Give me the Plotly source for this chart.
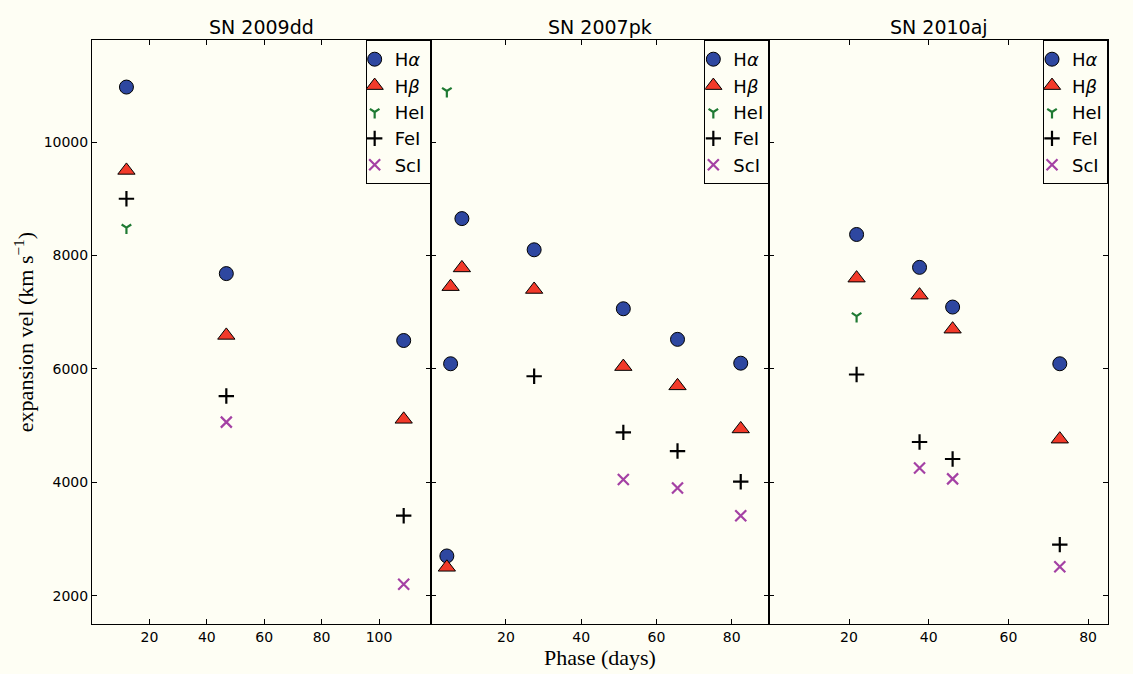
import plotly.graph_objects as go
from plotly.subplots import make_subplots

# Expansion velocities (km/s) of spectral lines versus phase (days)
titles = ["SN 2009dd", "SN 2007pk", "SN 2010aj"]

# SN 2009dd
dd_ha_x = [12, 46.8, 108.6]
dd_ha_y = [10970, 7680, 6500]
dd_hb_x = [12, 46.8, 108.6]
dd_hb_y = [9500, 6590, 5110]
dd_he_x = [12]
dd_he_y = [8490]
dd_fe_x = [12, 46.8, 108.6]
dd_fe_y = [9000, 5520, 3410]
dd_sc_x = [46.8, 108.6]
dd_sc_y = [5060, 2200]

# SN 2007pk
pk_ha_x = [4.3, 5.3, 8.3, 27.5, 51.2, 65.6, 82.4]
pk_ha_y = [2700, 6090, 8650, 8100, 7060, 6520, 6100]
pk_hb_x = [4.3, 5.3, 8.3, 27.5, 51.2, 65.6, 82.4]
pk_hb_y = [2500, 7450, 7780, 7400, 6040, 5700, 4940]
pk_he_x = [4.3]
pk_he_y = [10900]
pk_fe_x = [27.5, 51.2, 65.6, 82.4]
pk_fe_y = [5870, 4880, 4550, 4010]
pk_sc_x = [51.2, 65.6, 82.4]
pk_sc_y = [4050, 3900, 3410]

# SN 2010aj
aj_ha_x = [21.9, 37.7, 46.0, 72.9]
aj_ha_y = [8370, 7790, 7090, 6090]
aj_hb_x = [21.9, 37.7, 46.0, 72.9]
aj_hb_y = [7600, 7300, 6700, 4760]
aj_he_x = [21.9]
aj_he_y = [6930]
aj_fe_x = [21.9, 37.7, 46.0, 72.9]
aj_fe_y = [5900, 4710, 4410, 2900]
aj_sc_x = [37.7, 46.0, 72.9]
aj_sc_y = [4250, 4060, 2510]

x_ranges = [[0, 118], [0, 90], [0, 85]]
x_ticks = [[20, 40, 60, 80, 100], [20, 40, 60, 80], [20, 40, 60, 80]]
y_ticks = [2000, 4000, 6000, 8000, 10000]
y_range = [1500, 11800]

BG = "#fefef4"
line_names = ["H<i>α</i>", "H<i>β</i>", "HeI", "FeI", "ScI"]
styles = [
    dict(symbol="circle", size=14, color="#2e47a0", line=dict(color="black", width=1)),
    dict(symbol="triangle-up", size=15, color="#f23a2a", line=dict(color="black", width=1)),
    dict(symbol="y-down", size=8, color="#1f7a33", line=dict(color="#1f7a33", width=2.2)),
    dict(symbol="cross-thin", size=11, color="black", line=dict(color="black", width=2.2)),
    dict(symbol="x-thin", size=11, color="#a441a4", line=dict(color="#a441a4", width=2.2)),
]

panels = [
    [(dd_ha_x, dd_ha_y), (dd_hb_x, dd_hb_y), (dd_he_x, dd_he_y), (dd_fe_x, dd_fe_y), (dd_sc_x, dd_sc_y)],
    [(pk_ha_x, pk_ha_y), (pk_hb_x, pk_hb_y), (pk_he_x, pk_he_y), (pk_fe_x, pk_fe_y), (pk_sc_x, pk_sc_y)],
    [(aj_ha_x, aj_ha_y), (aj_hb_x, aj_hb_y), (aj_he_x, aj_he_y), (aj_fe_x, aj_fe_y), (aj_sc_x, aj_sc_y)],
]

fig = make_subplots(rows=1, cols=3, shared_yaxes=True, horizontal_spacing=0,
                    subplot_titles=titles)

legend_ids = ["legend", "legend2", "legend3"]
for p, series in enumerate(panels):
    for k, (xs, ys) in enumerate(series):
        fig.add_trace(go.Scatter(
            x=xs, y=ys, mode="markers", name=line_names[k],
            marker=styles[k], legend=legend_ids[p],
        ), row=1, col=p + 1)

tick_font = dict(family="DejaVu Sans", size=14, color="black")
for p in range(3):
    fig.update_xaxes(range=x_ranges[p], tickvals=x_ticks[p], ticks="inside", ticklen=5,
                     showline=True, linecolor="black", linewidth=1, mirror="ticks",
                     showgrid=False, zeroline=False, tickfont=tick_font,
                     tickcolor="black", row=1, col=p + 1)
    fig.update_yaxes(range=y_range, tickvals=y_ticks, tickformat="d", ticks="inside",
                     ticklen=5, showline=True, linecolor="black", linewidth=1,
                     mirror="ticks", showgrid=False, zeroline=False, tickfont=tick_font,
                     tickcolor="black", row=1, col=p + 1)

fig.update_xaxes(title=dict(text="Phase (days)", standoff=2,
                            font=dict(family="Liberation Serif", size=22, color="black")),
                 row=1, col=2)
fig.update_yaxes(title=dict(text="expansion vel (km s<sup>−1</sup>)", standoff=3,
                            font=dict(family="Liberation Serif", size=22, color="black")),
                 row=1, col=1)

for ann in fig.layout.annotations:
    ann.font = dict(family="DejaVu Sans", size=19, color="black")

legend_style = dict(
    xref="paper", yref="paper", xanchor="right", yanchor="top", y=1,
    bgcolor=BG, bordercolor="black", borderwidth=1,
    font=dict(family="DejaVu Sans", size=18, color="black"),
    itemwidth=30, indentation=-12,
)
fig.update_layout(
    legend=dict(x=1 / 3, **legend_style),
    legend2=dict(x=2 / 3, **legend_style),
    legend3=dict(x=1, **legend_style),
    paper_bgcolor=BG, plot_bgcolor=BG,
    width=1133, height=674,
    margin=dict(l=92, r=25, t=40, b=48),
)

fig.write_html("out.html")
